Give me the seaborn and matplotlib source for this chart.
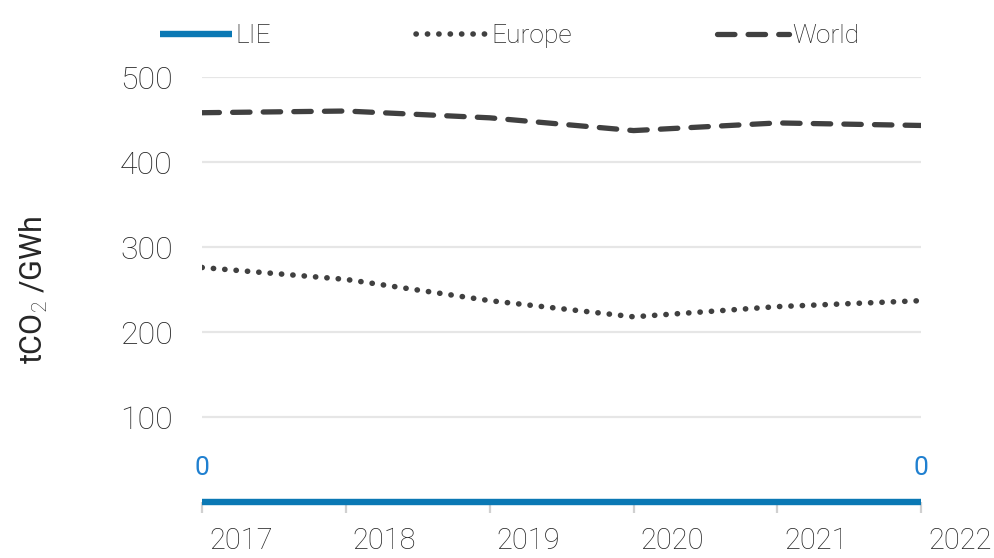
import numpy as np
import pandas as pd
import matplotlib
matplotlib.use("Agg")
import matplotlib.pyplot as plt
import matplotlib.transforms as mtransforms
import seaborn as sns

# ===================== 数据 =====================
YEARS = [2017, 2018, 2019, 2020, 2021, 2022]
LIE = [0, 0, 0, 0, 0, 0]
EUROPE = [276, 262, 237, 218, 230, 237]
WORLD = [458, 460, 452, 437, 446, 443]
Y_TICKS = [100, 200, 300, 400, 500]

BLUE = "#0a78b4"
LABEL_BLUE = "#2080d0"
DARK = "#404040"
TEXT = "#262626"

sns.set_theme(style="white")
plt.rcParams['font.family'] = ['Roboto', 'DejaVu Sans']
plt.rcParams['font.weight'] = 'light'
plt.rcParams['mathtext.fontset'] = 'custom'
plt.rcParams['mathtext.rm'] = 'Roboto:light'

df = pd.DataFrame({"year": YEARS, "LIE": LIE, "Europe": EUROPE, "World": WORLD})

fig = plt.figure(figsize=(9.95, 5.58), dpi=100)
ax = fig.add_axes([0.203, 0.100, 0.723, 0.762])

# 网格线
for v in Y_TICKS:
    ax.axhline(v, color="#e6e6e6", lw=1.6, zorder=0)

sns.lineplot(data=df, x="year", y="World", ax=ax, color=DARK, lw=3.8,
             label="World", zorder=3)
sns.lineplot(data=df, x="year", y="Europe", ax=ax, color=DARK, lw=4.0,
             label="Europe", zorder=3)
sns.lineplot(data=df, x="year", y="LIE", ax=ax, color=BLUE, lw=4.6,
             label="LIE", zorder=4)

lines = ax.get_lines()
world_line, europe_line, lie_line = lines[-3], lines[-2], lines[-1]
world_line.set_dashes([3.3, 2.5])
world_line.set_dash_capstyle("round")
europe_line.set_dashes([0.05, 2.0])
europe_line.set_dash_capstyle("round")
lie_line.set_solid_capstyle("butt")
lie_line.set_clip_on(False)

# 数据标签
for i in [0, len(YEARS) - 1]:
    ax.annotate(str(LIE[i]), (YEARS[i], LIE[i]), xytext=(0, 16),
                textcoords="offset points", ha="center", va="bottom",
                color=LABEL_BLUE, fontsize=19, fontweight="normal")

ax.set_xlim(YEARS[0], YEARS[-1])
ax.set_ylim(0, 500)
ax.set_xticks(YEARS)
ax.set_xticklabels([str(y) for y in YEARS])
ax.set_yticks(Y_TICKS)
ax.tick_params(axis="x", direction="out", length=8, width=1.6, color="#d0d0d0",
               labelsize=21, labelcolor=TEXT, pad=10, bottom=True)
ax.tick_params(axis="y", length=0, labelsize=23, labelcolor=TEXT, pad=21)
# 年份标签靠左对齐，略向右偏
offset = mtransforms.ScaledTranslation(5 / 72, 0, fig.dpi_scale_trans)
for lab in ax.get_xticklabels():
    lab.set_horizontalalignment("left")
    lab.set_transform(lab.get_transform() + offset)
for s in ax.spines.values():
    s.set_visible(False)
ax.set_xlabel("")
ax.set_ylabel("tCO$_2$ /GWh", fontsize=22, color=TEXT, labelpad=50)

ax.get_legend().remove()
fig.legend(handles=[lie_line, europe_line, world_line],
           labels=["LIE", "Europe", "World"], ncol=3, loc="center",
           bbox_to_anchor=(0.512, 0.935), frameon=False, fontsize=19,
           handlelength=2.75, handletextpad=0.1, columnspacing=5.5,
           labelcolor=TEXT)

fig.savefig("out.png", dpi=100)
